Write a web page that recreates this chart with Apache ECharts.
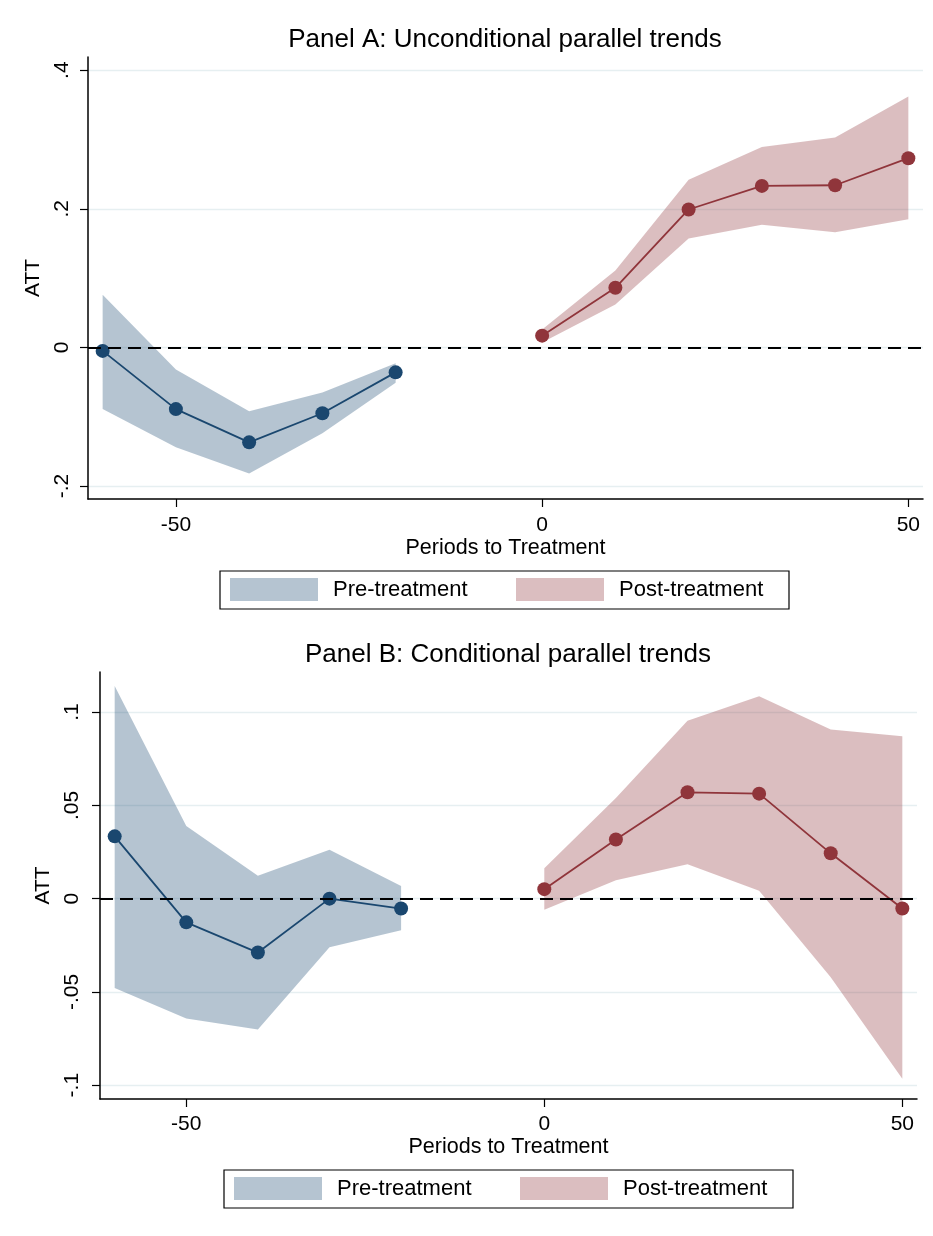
<!DOCTYPE html>
<html>
<head>
<meta charset="utf-8">
<script src="https://cdn.jsdelivr.net/npm/echarts@6/dist/echarts.min.js"></script>
<style>
  html, body { margin: 0; padding: 0; background: #fff; }
</style>
</head>
<body>
<div id="chart" style="width: 933px; height: 1236px;"></div>
<script>
// periods to treatment
const xPre = [-60, -50, -40, -30, -20]
const xPost = [0, 10, 20, 30, 40, 50]
const xTicks = [-50, 0, 50]

// Panel A: unconditional parallel trends
const attPreA = [-0.005, -0.089, -0.137, -0.095, -0.036]
const hiPreA = [0.076, -0.032, -0.092, -0.065, -0.023]
const loPreA = [-0.089, -0.144, -0.182, -0.124, -0.051]
const attPostA = [0.017, 0.086, 0.199, 0.233, 0.234, 0.273]
const hiPostA = [0.026, 0.111, 0.242, 0.289, 0.303, 0.362]
const loPostA = [0.007, 0.062, 0.157, 0.177, 0.166, 0.185]
const yTicksA = [-0.2, 0, 0.2, 0.4]

// Panel B: conditional parallel trends
const attPreB = [0.0334, -0.0127, -0.0289, 0.0, -0.0053]
const hiPreB = [0.114, 0.039, 0.0123, 0.0262, 0.0068]
const loPreB = [-0.0479, -0.0643, -0.0702, -0.026, -0.0169]
const attPostB = [0.0051, 0.0317, 0.057, 0.0563, 0.0243, -0.0053]
const hiPostB = [0.0163, 0.054, 0.0954, 0.1085, 0.0907, 0.087]
const loPostB = [-0.0059, 0.0099, 0.0184, 0.0042, -0.0422, -0.0966]
const yTicksB = [-0.1, -0.05, 0, 0.05, 0.1]

const FONT = '"Liberation Sans", Arial, sans-serif'
const NAVY = '#1a476f'
const MAROON = '#90353b'
const NAVY_BAND = 'rgba(26,71,111,0.32)'
const MAROON_BAND = 'rgba(144,53,59,0.32)'

const stataNum = (v) => (v === 0 ? '0' : String(v).replace('0.', '.'))

function bandSeries(name, idx, xs, lo, hi, color) {
  return {
    type: 'custom',
    name: name,
    xAxisIndex: idx,
    yAxisIndex: idx,
    z: 1,
    silent: true,
    data: xs.map((x, i) => [x, lo[i], hi[i]]),
    encode: { x: 0, y: [1, 2] },
    renderItem: (params, api) => {
      if (params.dataIndex !== 0) return
      const pts = []
      xs.forEach((x, i) => pts.push(api.coord([x, hi[i]])))
      for (let i = xs.length - 1; i >= 0; i--) pts.push(api.coord([xs[i], lo[i]]))
      return { type: 'polygon', shape: { points: pts }, style: { fill: color } }
    },
  }
}

function lineSeries(name, idx, xs, ys, color) {
  return {
    type: 'line',
    name: name,
    xAxisIndex: idx,
    yAxisIndex: idx,
    z: 3,
    data: xs.map((x, i) => [x, ys[i]]),
    symbol: 'circle',
    symbolSize: 14,
    lineStyle: { color: color, width: 1.8 },
    itemStyle: { color: color },
    emphasis: { disabled: true },
  }
}

function zeroLine(idx) {
  return {
    type: 'line',
    xAxisIndex: idx,
    yAxisIndex: idx,
    z: 2,
    data: [],
    markLine: {
      silent: true,
      symbol: 'none',
      label: { show: false },
      lineStyle: { color: '#000', type: [13, 7], width: 1.8 },
      data: [{ yAxis: 0 }],
    },
  }
}

function xAxisOpt(idx, min, max, margin, nameGap) {
  return {
    gridIndex: idx,
    type: 'value',
    min: min,
    max: max,
    name: 'Periods to Treatment',
    nameLocation: 'middle',
    nameGap: nameGap,
    nameTextStyle: { fontFamily: FONT, fontSize: 21.5, color: '#000' },
    axisLine: { show: true, onZero: false, lineStyle: { color: '#000', width: 1.5 } },
    axisTick: { show: true, length: 8, customValues: xTicks, lineStyle: { color: '#000', width: 1.2 } },
    axisLabel: { customValues: xTicks, margin: margin, fontFamily: FONT, fontSize: 21, color: '#000' },
    splitLine: { show: false },
  }
}

function yAxisOpt(idx, min, max, ticks, margin) {
  return {
    gridIndex: idx,
    type: 'value',
    min: min,
    max: max,
    name: 'ATT',
    nameLocation: 'middle',
    nameGap: 42,
    nameTextStyle: { fontFamily: FONT, fontSize: 21, color: '#000' },
    axisLine: { show: true, onZero: false, lineStyle: { color: '#000', width: 1.5 } },
    axisTick: { show: true, length: 8, customValues: ticks, lineStyle: { color: '#000', width: 1.2 } },
    axisLabel: {
      customValues: ticks,
      rotate: 90,
      margin: margin,
      fontFamily: FONT,
      fontSize: 21,
      color: '#000',
      formatter: stataNum,
    },
    splitLine: { show: true, lineStyle: { color: '#e6eff1', width: 1.3 } },
  }
}

function legendOpt(left, top) {
  return {
    left: left,
    top: top,
    orient: 'horizontal',
    borderColor: '#000',
    borderWidth: 1.2,
    borderRadius: 0,
    padding: [7, 17, 8, 10],
    itemGap: 30,
    itemWidth: 88,
    itemHeight: 23,
    selectedMode: false,
    textStyle: {
      fontFamily: FONT,
      fontSize: 22,
      color: '#000',
      width: 153,
      overflow: 'none',
      backgroundColor: 'rgba(255,255,255,0)',
      padding: [0, 0, 0, 10],
    },
    data: [
      { name: 'Pre-treatment', icon: 'rect', itemStyle: { color: NAVY_BAND } },
      { name: 'Post-treatment', icon: 'rect', itemStyle: { color: MAROON_BAND } },
    ],
  }
}

const chart = echarts.init(document.getElementById('chart'), null, { renderer: 'canvas' })

const option = {
  backgroundColor: '#fff',
  animation: false,
  title: [
    {
      text: 'Panel A: Unconditional parallel trends',
      left: 505,
      textAlign: 'center',
      top: 27,
      padding: 0,
      textStyle: { fontFamily: FONT, fontSize: 26, fontWeight: 'normal', color: '#000' },
    },
    {
      text: 'Panel B: Conditional parallel trends',
      left: 508,
      textAlign: 'center',
      top: 642,
      padding: 0,
      textStyle: { fontFamily: FONT, fontSize: 26, fontWeight: 'normal', color: '#000' },
    },
  ],
  legend: [legendOpt(220, 571), legendOpt(224, 1170)],
  grid: [
    { left: 88, right: 10, top: 57, height: 442 },
    { left: 100, right: 16, top: 672, height: 427 },
  ],
  xAxis: [xAxisOpt(0, -62, 52, 16, 36), xAxisOpt(1, -62.05, 52.05, 15, 37)],
  yAxis: [
    yAxisOpt(0, -0.2187, 0.419, yTicksA, 15),
    yAxisOpt(1, -0.1074, 0.1215, yTicksB, 17),
  ],
  series: [
    bandSeries('Pre-treatment', 0, xPre, loPreA, hiPreA, NAVY_BAND),
    bandSeries('Post-treatment', 0, xPost, loPostA, hiPostA, MAROON_BAND),
    zeroLine(0),
    lineSeries('Pre-treatment', 0, xPre, attPreA, NAVY),
    lineSeries('Post-treatment', 0, xPost, attPostA, MAROON),

    bandSeries('Pre-treatment', 1, xPre, loPreB, hiPreB, NAVY_BAND),
    bandSeries('Post-treatment', 1, xPost, loPostB, hiPostB, MAROON_BAND),
    zeroLine(1),
    lineSeries('Pre-treatment', 1, xPre, attPreB, NAVY),
    lineSeries('Post-treatment', 1, xPost, attPostB, MAROON),
  ],
}

chart.setOption(option)
</script>
</body>
</html>
